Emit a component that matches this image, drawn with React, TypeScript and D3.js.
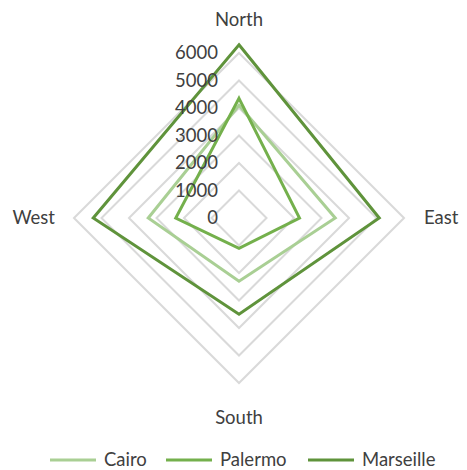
import React from "react";
import * as d3 from "d3";

const categories = ["North", "East", "South", "West"];
const ticks = [0, 1000, 2000, 3000, 4000, 5000, 6000];
const seriesNames = ["Cairo", "Palermo", "Marseille"];
const cairo = [4100, 3500, 2300, 3300];
const palermo = [4350, 2200, 1100, 2300];
const marseille = [6300, 5100, 3500, 5300];
const colors = ["#a9cf94", "#74b04c", "#5f933b"];

export default function App() {
  const W = 467, H = 470;
  const cx = 239, cy = 218, R = 165;
  const r = d3.scaleLinear().domain([0, 6000]).range([0, R]);
  const angle = (i: number) => (i * 2 * Math.PI) / categories.length;
  const pt = (v: number, i: number): [number, number] => [
    cx + r(v) * Math.sin(angle(i)),
    cy - r(v) * Math.cos(angle(i)),
  ];
  const line = d3.line<[number, number]>().curve(d3.curveLinearClosed);
  const data = [cairo, palermo, marseille];
  const font = "Lato, sans-serif";
  const fs = 18.5;
  const textColor = "#404040";
  const legendX = [50, 166, 308];
  return (
    <svg width={W} height={H} style={{ position: "absolute", left: 0, top: 0 }}>
      <rect width={W} height={H} fill="#fff" />
      {ticks.slice(1).map((t) => (
        <path key={t} d={line(categories.map((_, i) => pt(t, i))) || ""} fill="none" stroke="#d9d9d9" strokeWidth={2} />
      ))}
      {data.map((s, k) => (
        <path key={k} d={line(s.map((v, i) => pt(v, i))) || ""} fill="none" stroke={colors[k]} strokeWidth={3} strokeLinejoin="miter" />
      ))}
      {ticks.map((t) => (
        <text key={t} x={cx - 21} y={cy - r(t)} dy="0.35em" textAnchor="end" fontFamily={font} fontSize={fs} fill={textColor}>
          {t}
        </text>
      ))}
      <text x={cx} y={20} dy="0.35em" textAnchor="middle" fontFamily={font} fontSize={fs} fill={textColor}>North</text>
      <text x={424} y={cy} dy="0.35em" textAnchor="start" fontFamily={font} fontSize={fs} fill={textColor}>East</text>
      <text x={cx} y={418} dy="0.35em" textAnchor="middle" fontFamily={font} fontSize={fs} fill={textColor}>South</text>
      <text x={55} y={cy} dy="0.35em" textAnchor="end" fontFamily={font} fontSize={fs} fill={textColor}>West</text>
      {seriesNames.map((n, k) => (
        <g key={n} transform={`translate(${legendX[k]},460)`}>
          <line x1={0} x2={46} y1={0} y2={0} stroke={colors[k]} strokeWidth={3} />
          <text x={54} y={0} dy="0.35em" fontFamily={font} fontSize={fs} fill={textColor}>{n}</text>
        </g>
      ))}
    </svg>
  );
}
